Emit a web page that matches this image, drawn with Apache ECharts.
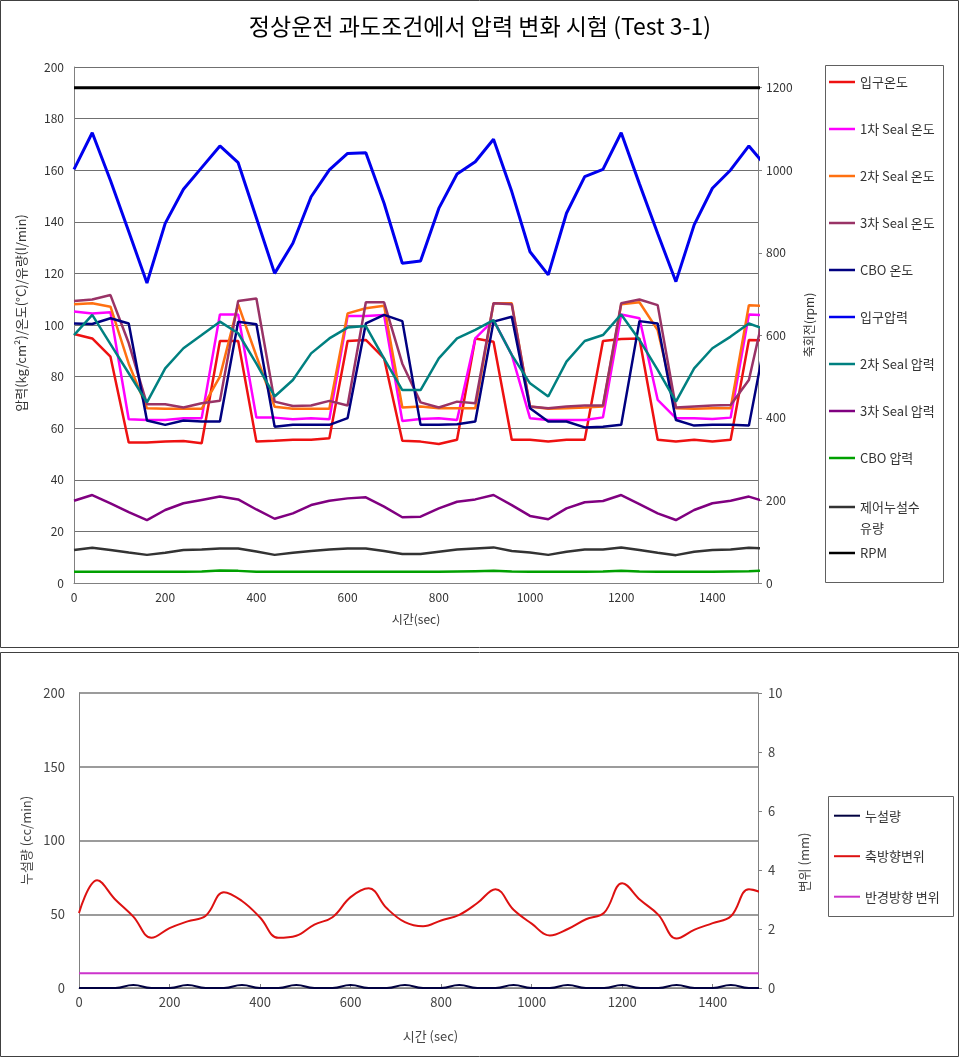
<!DOCTYPE html>
<html><head><meta charset="utf-8">
<script src="https://cdn.jsdelivr.net/npm/echarts@6/dist/echarts.min.js"></script>
<style>html,body{margin:0;padding:0;background:#fff}#c{width:960px;height:1058px}</style>
</head><body><div id="c"></div>
<script>
const times = [0,40,80,120,160,200,240,280,320,360,400,440,480,520,560,600,640,680,720,760,800,840,880,920,960,1000,1040,1080,1120,1160,1200,1240,1280,1320,1360,1400,1440,1480,1520];
// top chart series
const inletTemp = [96.5,94.8,87.7,54.5,54.5,54.8,55,54.2,93.8,93.8,54.8,55.1,55.5,55.5,56.1,93.8,94.2,87.1,55.1,54.8,53.9,55.5,94.8,93.5,55.5,55.5,54.8,55.5,55.5,93.8,94.6,94.8,55.5,54.8,55.5,54.8,55.5,94.2,94];
const seal1Temp = [105.2,104.5,104.9,63.5,63.2,63.2,63.9,63.9,104.1,104.1,64.1,64.1,63.5,63.9,63.5,103.5,103.5,103.9,62.8,63.6,63.9,63.2,94.8,101.9,88.4,63.9,63.2,63.2,63.2,64.2,104.1,102.6,71,63.9,63.9,63.6,64.1,104.1,103.7];
const seal2Temp = [108,108.4,107.1,85,67.7,67.5,67.5,67.5,80,108,88,68.3,67.5,67.5,67.5,104.5,106.5,107.5,68,68.4,67.7,67.7,67.7,108.4,108.4,68.4,67.5,67.7,68,68.4,108,108.8,98,67.7,67.5,67.7,67.7,107.7,107.3];
const seal3Temp = [109.3,109.9,111.6,93,69.3,69.3,68,69.7,70.6,109.3,110.3,70.3,68.6,68.8,70.6,68.8,108.8,108.8,85,70,68,70.3,69.7,108.4,108,68.4,67.7,68.4,68.8,68.8,108.4,109.9,107.7,68,68.4,68.8,69,78.7,110];
const cboTemp = [100.6,100.4,102.6,100.6,63,61.3,63,62.6,62.6,101.3,100.3,60.6,61.3,61.3,61.3,63.9,100.6,103.9,101.5,61.3,61.3,61.5,62.6,101.3,103.2,67.7,62.6,62.6,60.3,60.6,61.3,101.5,100.6,63.2,61,61.3,61.3,61,98];
const inletPress = [160.3,174.5,156,136.2,116.3,139.4,152.6,161,169.4,162.9,141.5,120,131.7,149.7,160.1,166.5,166.8,147.2,123.9,124.8,145.2,158.5,163.3,172,151.7,128.4,119.4,143.3,157.5,160.3,174.5,154.7,135.5,116.8,138.8,153,160.1,169.4,161];
const seal2Press = [96.1,103.9,92.6,81.3,70,83.2,91,96.1,101.3,96.8,85,72.3,78.7,89,94.8,99,99.6,87,74.8,74.8,87.1,94.8,98.1,101.9,88.4,77.4,72.3,85.8,93.8,96.1,104.1,94.2,82.6,70.3,83.2,91,95.5,100.6,98];
const seal3Press = [31.9,34.1,30.9,27.5,24.4,28.3,30.9,32.2,33.5,32.4,28.5,24.9,27,30.2,31.9,32.8,33.2,29.6,25.5,25.7,28.9,31.5,32.4,34.1,30.2,26,24.7,28.9,31.3,31.8,34.1,30.6,27,24.4,28.3,30.9,31.9,33.5,31.3];
const cboPress = [4.4,4.4,4.4,4.4,4.4,4.4,4.4,4.5,4.8,4.7,4.4,4.4,4.4,4.4,4.4,4.4,4.4,4.4,4.4,4.4,4.4,4.5,4.6,4.7,4.5,4.4,4.4,4.4,4.4,4.5,4.7,4.5,4.4,4.4,4.4,4.4,4.5,4.6,4.9];
const leakFlow = [12.8,13.7,12.8,11.8,10.9,11.7,12.8,13,13.4,13.4,12.2,10.9,11.7,12.4,13,13.4,13.4,12.4,11.2,11.2,12.1,13,13.4,13.8,12.4,11.8,10.9,12.1,13,13,13.8,12.8,11.7,10.8,12.1,12.8,13,13.7,13.3];
const rpm = [1200,1200,1200,1200,1200,1200,1200,1200,1200,1200,1200,1200,1200,1200,1200,1200,1200,1200,1200,1200,1200,1200,1200,1200,1200,1200,1200,1200,1200,1200,1200,1200,1200,1200,1200,1200,1200,1200,1200];
// bottom chart series
const leakage = [0,0,0,2,0,0,2,0,0,2,0,0,2,0,0,2,0,0,2,0,0,2,0,0,2,0,0,2,0,0,2,0,0,2,0,0,2,0,0];
const axialDisp = [2.54,3.65,3.0,2.42,1.7,2.03,2.26,2.45,3.25,2.95,2.39,1.7,1.77,2.15,2.4,3.08,3.38,2.7,2.23,2.09,2.29,2.48,2.88,3.35,2.65,2.18,1.78,2.0,2.33,2.55,3.55,2.98,2.48,1.68,1.98,2.2,2.43,3.35,3.15];
const radialDisp = [0.5,0.5,0.5,0.5,0.5,0.5,0.5,0.5,0.5,0.5,0.5,0.5,0.5,0.5,0.5,0.5,0.5,0.5,0.5,0.5,0.5,0.5,0.5,0.5,0.5,0.5,0.5,0.5,0.5,0.5,0.5,0.5,0.5,0.5,0.5,0.5,0.5,0.5,0.5];

const FONT = '"Noto Sans CJK KR","Noto Sans",sans-serif';
const pair = arr => times.map((t, i) => [t, arr[i]]);
const plain = v => String(v);

const topNames = ['입구온도','1차 Seal 온도','2차 Seal 온도','3차 Seal 온도','CBO 온도','입구압력','2차 Seal 압력','3차 Seal 압력','CBO 압력','제어누설수 유량','RPM'];
const topData = [inletTemp, seal1Temp, seal2Temp, seal3Temp, cboTemp, inletPress, seal2Press, seal3Press, cboPress, leakFlow, rpm];
const topColors = ['#ee1111','#ff00ff','#ff7010','#993366','#000080','#0000ee','#008080','#800080','#00a000','#333333','#000000'];
const topWidths = [2.5,2.5,2.5,2.5,2.5,3,2.5,2.5,2.5,2.5,3];

const botNames = ['누설량','축방향변위','반경방향 변위'];

const series = [];
topNames.forEach((n, i) => {
  series.push({
    name: n, type: 'line', xAxisIndex: 0, yAxisIndex: n === 'RPM' ? 1 : 0,
    data: pair(topData[i]), symbol: 'none', showSymbol: false,
    lineStyle: {color: topColors[i], width: topWidths[i]}, itemStyle: {color: topColors[i]},
    animation: false, clip: true
  });
});
series.push({name: botNames[0], type: 'line', xAxisIndex: 1, yAxisIndex: 2, data: pair(leakage), smooth: 0.5,
  symbol: 'none', lineStyle: {color: '#000040', width: 2}, itemStyle: {color: '#000040'}, animation: false, clip: true});
series.push({name: botNames[1], type: 'line', xAxisIndex: 1, yAxisIndex: 3, data: pair(axialDisp), smooth: 0.4,
  symbol: 'none', lineStyle: {color: '#dd1111', width: 2}, itemStyle: {color: '#dd1111'}, animation: false, clip: true});
series.push({name: botNames[2], type: 'line', xAxisIndex: 1, yAxisIndex: 3, data: pair(radialDisp),
  symbol: 'none', lineStyle: {color: '#cc33cc', width: 2}, itemStyle: {color: '#cc33cc'}, animation: false, clip: true});

const axisGray = '#808080';
const lblTop = {color: '#333', fontSize: 12, fontFamily: FONT, formatter: plain};
const lblBot = {color: '#444', fontSize: 13, fontFamily: FONT, formatter: plain};
const legText = {fontSize: 13, lineHeight: 14, color: '#333', fontFamily: FONT};

const option = {
  animation: false,
  backgroundColor: '#fff',
  title: {text: '정상운전 과도조건에서 압력 변화 시험 (Test 3-1)', left: 'center', top: 10,
    textStyle: {fontSize: 23, fontWeight: 'normal', color: '#000', fontFamily: FONT}},
  grid: [
    {left: 74, right: 202, top: 67, height: 516},
    {left: 79, right: 202, top: 693, height: 295}
  ],
  xAxis: [
    {gridIndex: 0, type: 'value', min: 0, max: 1500, interval: 200,
     axisLine: {lineStyle: {color: axisGray}}, axisTick: {show: false}, splitLine: {show: false},
     axisLabel: Object.assign({margin: 8, showMaxLabel: false}, lblTop),
     name: '시간(sec)', nameLocation: 'middle', nameGap: 30, nameTextStyle: {color: '#333', fontSize: 12, fontFamily: FONT}},
    {gridIndex: 1, type: 'value', min: 0, max: 1500, interval: 200,
     axisLine: {lineStyle: {color: axisGray}}, axisTick: {show: true, inside: true, length: 4, lineStyle: {color: axisGray}},
     splitLine: {show: false},
     axisLabel: Object.assign({margin: 8, showMaxLabel: false}, lblBot),
     name: '시간 (sec)', nameLocation: 'middle', nameGap: 42,
     nameTextStyle: {color: '#444', fontSize: 13, fontFamily: FONT, padding: [0, 0, 0, 24]}}
  ],
  yAxis: [
    {gridIndex: 0, type: 'value', min: 0, max: 200, interval: 20, position: 'left',
     axisLine: {show: true, lineStyle: {color: axisGray}}, axisTick: {show: false},
     splitLine: {show: true, lineStyle: {color: '#707070', width: 1}},
     axisLabel: Object.assign({margin: 10}, lblTop),
     name: '압력(kg/cm²)/온도(°C)/유량(l/min)', nameLocation: 'middle', nameRotate: 90, nameGap: 46,
     nameTextStyle: {color: '#333', fontSize: 13, fontFamily: FONT, padding: [0, 0, 0, 24]}},
    {gridIndex: 0, type: 'value', min: 0, max: 1250, interval: 200, position: 'right',
     axisLine: {show: true, lineStyle: {color: axisGray}}, axisTick: {show: true, length: 4, lineStyle: {color: axisGray}},
     splitLine: {show: false},
     axisLabel: Object.assign({margin: 8, showMaxLabel: false}, lblTop),
     name: '축회전(rpm)', nameLocation: 'middle', nameRotate: 90, nameGap: 44,
     nameTextStyle: {color: '#333', fontSize: 12, fontFamily: FONT}},
    {gridIndex: 1, type: 'value', min: 0, max: 200, interval: 50, position: 'left',
     axisLine: {show: true, lineStyle: {color: axisGray}}, axisTick: {show: false},
     splitLine: {show: true, lineStyle: {color: '#7a7a7a', width: 1.5}},
     axisLabel: Object.assign({margin: 14}, lblBot),
     name: '누설량 (cc/min)', nameLocation: 'middle', nameRotate: 90, nameGap: 44,
     nameTextStyle: {color: '#444', fontSize: 13, fontFamily: FONT}},
    {gridIndex: 1, type: 'value', min: 0, max: 10, interval: 2, position: 'right',
     axisLine: {show: true, lineStyle: {color: axisGray}}, axisTick: {show: true, length: 4, lineStyle: {color: axisGray}},
     splitLine: {show: false},
     axisLabel: Object.assign({margin: 10}, lblBot),
     name: '변위 (mm)', nameLocation: 'middle', nameRotate: 90, nameGap: 40,
     nameTextStyle: {color: '#444', fontSize: 13, fontFamily: FONT, padding: [0, 44, 0, 0]}}
  ],
  legend: [
    {data: topNames.slice(0, 9), orient: 'vertical', left: 829, top: 75, padding: 0,
     icon: 'rect', itemWidth: 26, itemHeight: 2.5, itemGap: 33, selectedMode: false,
     textStyle: legText},
    {data: ['제어누설수 유량'], orient: 'vertical', left: 829, top: 475.5, padding: 0,
     icon: 'rect', itemWidth: 26, itemHeight: 2.5, selectedMode: false, formatter: () => '\n제어누설수\n유량',
     textStyle: {fontSize: 13, lineHeight: 21, color: '#333', fontFamily: FONT}},
    {data: ['RPM'], orient: 'vertical', left: 829, top: 546, padding: 0,
     icon: 'rect', itemWidth: 26, itemHeight: 2.5, selectedMode: false,
     textStyle: legText},
    {data: botNames, orient: 'vertical', left: 834, top: 808.7, padding: 0,
     icon: 'rect', itemWidth: 26, itemHeight: 2, itemGap: 26.5, selectedMode: false,
     textStyle: {fontSize: 13, lineHeight: 14, color: '#333', fontFamily: FONT}}
  ],
  graphic: [
    {type: 'rect', shape: {x: 0.5, y: 0.5, width: 958, height: 647}, style: {fill: null, stroke: '#404040', lineWidth: 1}, silent: true, z: -1},
    {type: 'rect', shape: {x: 0.5, y: 652.5, width: 958, height: 404}, style: {fill: null, stroke: '#404040', lineWidth: 1}, silent: true, z: -1},
    {type: 'rect', shape: {x: 825.5, y: 65.5, width: 118, height: 517}, style: {fill: null, stroke: '#606060', lineWidth: 1}, silent: true, z: -1},
    {type: 'rect', shape: {x: 828.5, y: 796.5, width: 125, height: 120}, style: {fill: null, stroke: '#606060', lineWidth: 1}, silent: true, z: -1}
  ],
  series: series
};
const chart = echarts.init(document.getElementById('c'), null, {renderer: 'canvas'});
chart.setOption(option);
</script>
</body></html>
